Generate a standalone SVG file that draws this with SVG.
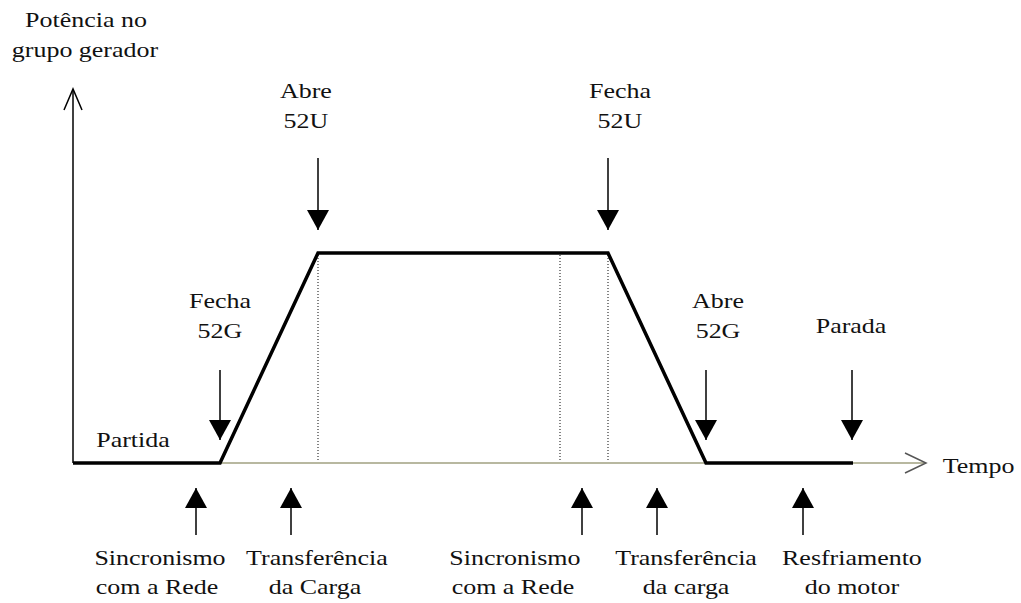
<svg xmlns="http://www.w3.org/2000/svg" width="1021" height="603" viewBox="0 0 1021 603">
  <style>
    text { font-family: "Liberation Serif", "Times New Roman", serif; font-size: 22px; fill: #111; text-anchor: middle; }
    .lbl { }
    .axis { stroke: #000; stroke-width: 1.5; fill: none; }
    .xaxis { stroke: #a0a080; stroke-width: 1.5; fill: none; }
    .profile { stroke: #000; stroke-width: 3.5; fill: none; stroke-linejoin: miter; }
    .dot { stroke: #333; stroke-width: 1.2; stroke-dasharray: 1 2; fill: none; }
    .arr { stroke: #000; stroke-width: 1.5; fill: none; marker-end: url(#head); }
  </style>
  <defs>
    <marker id="head" markerUnits="userSpaceOnUse" markerWidth="22" markerHeight="22" viewBox="0 0 20 22" refX="20" refY="11" orient="auto">
      <path d="M0,0 L20,11 L0,22 Z" fill="#000"/>
    </marker>
  </defs>
  <rect width="1021" height="603" fill="#fff"/>

  <g id="axes">
    <path class="axis" d="M73,463 V90"/>
    <path class="axis" d="M64,110 L73,89 L82,110"/>
    <path class="xaxis" d="M73,463 H925"/>
    <path d="M905,453 L926,463 L905,473" stroke="#555" stroke-width="1.5" fill="none"/>
  </g>

  <g id="axis-labels" transform="scale(1.18 1)">
    <text x="72.9" y="27">Potência no</text>
    <text x="72" y="57">grupo gerador</text>
    <text x="799" y="473" style="text-anchor:start">Tempo</text>
  </g>

  <g id="guides">
    <path class="dot" d="M318,255 V462"/>
    <path class="dot" d="M560,255 V462"/>
    <path class="dot" d="M608,255 V462"/>
  </g>

  <g id="profile">
    <path class="profile" d="M73,463 H220 L318,253 H608 L706,463 H853"/>
  </g>

  <g id="connectors">
    <path class="arr" d="M220,370 V440"/>
    <path class="arr" d="M318,158 V230"/>
    <path class="arr" d="M608,158 V230"/>
    <path class="arr" d="M706,370 V440"/>
    <path class="arr" d="M852,370 V440"/>
    <path class="arr" d="M196,535 V488"/>
    <path class="arr" d="M291,535 V488"/>
    <path class="arr" d="M582,535 V488"/>
    <path class="arr" d="M657,535 V488"/>
    <path class="arr" d="M803,535 V488"/>
  </g>

  <g id="partida" transform="scale(1.18 1)"><text x="112.7" y="447">Partida</text></g>
  <g id="fecha52g" transform="scale(1.18 1)"><text x="186.4" y="308">Fecha</text><text x="186.4" y="338">52G</text></g>
  <g id="abre52u" transform="scale(1.18 1)"><text x="259.3" y="98">Abre</text><text x="259.3" y="128">52U</text></g>
  <g id="fecha52u" transform="scale(1.18 1)"><text x="525.4" y="98">Fecha</text><text x="525.4" y="128">52U</text></g>
  <g id="abre52g" transform="scale(1.18 1)"><text x="608.5" y="308">Abre</text><text x="608.5" y="338">52G</text></g>
  <g id="parada" transform="scale(1.18 1)"><text x="721.2" y="333">Parada</text></g>

  <g id="sinc1" transform="scale(1.18 1)"><text x="135.6" y="565">Sincronismo</text><text x="133.1" y="594">com a Rede</text></g>
  <g id="transf1" transform="scale(1.18 1)"><text x="268.6" y="565">Transferência</text><text x="266.9" y="594">da Carga</text></g>
  <g id="sinc2" transform="scale(1.18 1)"><text x="436.4" y="565">Sincronismo</text><text x="434.7" y="594">com a Rede</text></g>
  <g id="transf2" transform="scale(1.18 1)"><text x="581.4" y="565">Transferência</text><text x="581.4" y="594">da carga</text></g>
  <g id="resfr" transform="scale(1.18 1)"><text x="722" y="565">Resfriamento</text><text x="722" y="594">do motor</text></g>
</svg>
